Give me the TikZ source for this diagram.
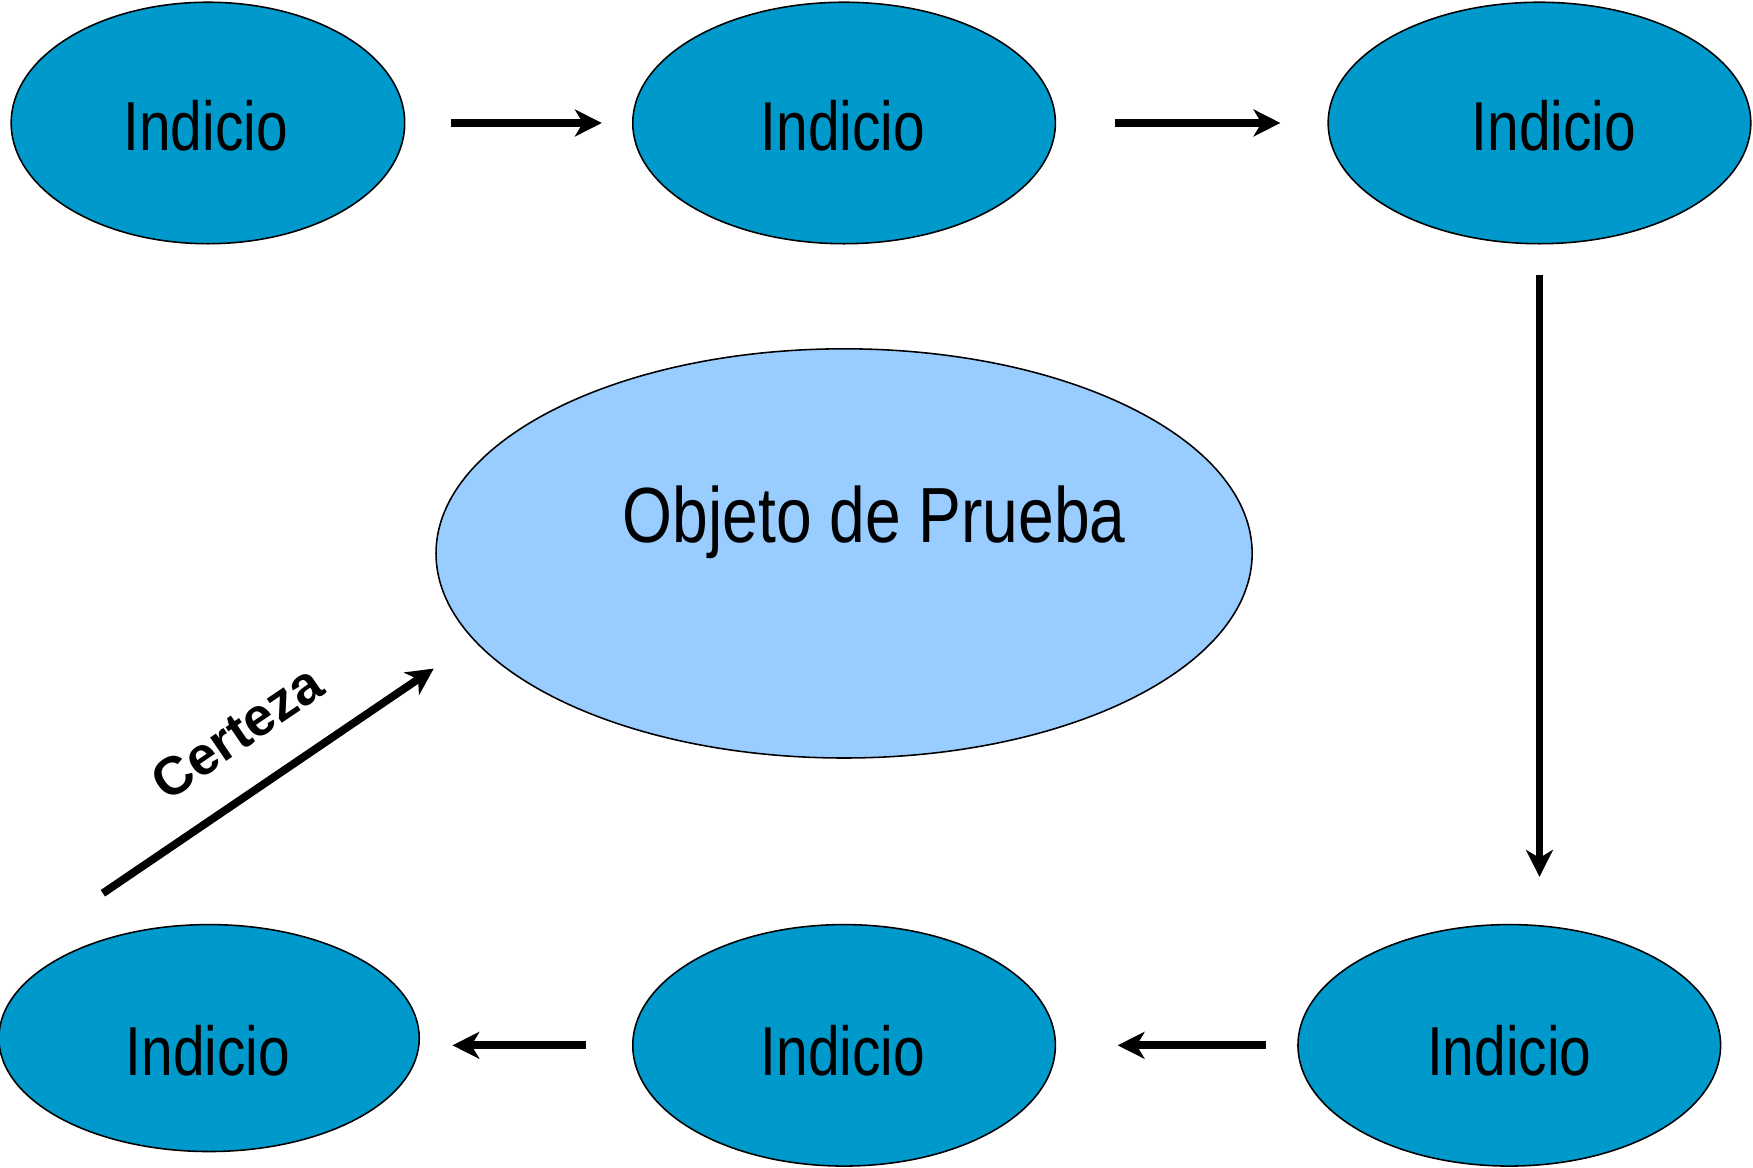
\documentclass[tikz,border=0pt]{standalone}
\usepackage{fontspec}
\setmainfont{Liberation Sans}
\newfontfamily\narrowfont{Liberation Sans}[FakeStretch=0.82]
\usetikzlibrary{shapes.geometric,arrows.meta}
\definecolor{indblue}{HTML}{0099CC}
\definecolor{objblue}{HTML}{99CCFF}
\tikzset{
  indbox/.style={ellipse,draw=black,line width=0.7pt,fill=indblue,inner sep=0pt,minimum width=189pt,minimum height=108pt},
  objbox/.style={ellipse,draw=black,line width=0.7pt,fill=objblue,inner sep=0pt,minimum width=365pt,minimum height=183pt},
  indtext/.style={anchor=base,inner sep=0pt,font=\narrowfont\fontsize{31pt}{31pt}\selectfont},
  objtext/.style={anchor=base,inner sep=0pt,font=\narrowfont\fontsize{35pt}{35pt}\selectfont},
  arr/.style={line width=3.5pt,-{Stealth[length=12pt,width=12pt,inset=3.5pt]}}
}
\begin{document}
\begin{tikzpicture}[x=0.5pt,y=-0.5pt]
\useasboundingbox (0,0) rectangle (1568,1044);
% ellipses
\node[indbox,minimum width=176pt] (e1) at (186,110) {};
\node[indbox] (e2) at (755,110) {};
\node[indbox] (e3) at (1377,110) {};
\node[indbox,minimum width=188pt,minimum height=101.5pt] (e4) at (187,928.5) {};
\node[indbox] (e5) at (755,935) {};
\node[indbox] (e6) at (1350,935) {};
\node[objbox] (obj) at (755,495) {};
% texts
\node[indtext] (t1) at (184,135) {Indicio};
\node[indtext] (t2) at (754,135) {Indicio};
\node[indtext] (t3) at (1390,135) {Indicio};
\node[indtext] (t4) at (186,962) {Indicio};
\node[indtext] (t5) at (754,962) {Indicio};
\node[indtext] (t6) at (1350,962) {Indicio};
\node[objtext] (to) at (782,485) {Objeto de Prueba};
% connectors
\draw[arr,shorten <=20.5pt,shorten >=13.5pt] (e1.east) -- (e2.west);
\draw[arr,shorten <=26.5pt,shorten >=21pt] (e2.east) -- (e3.west);
\draw[arr,shorten <=13.5pt,shorten >=21pt] (e3.south) -- (e3.south |- e6.north);
\draw[arr,shorten <=14pt,shorten >=27.5pt] (e6.west) -- (e6.west -| e5.east);
\draw[arr,shorten <=20.5pt,shorten >=14.5pt] (e5.west) -- (e5.west -| e4.east);
\coordinate (cs) at (92,799);
\coordinate (ce) at (388,598);
\draw[arr] (cs) -- (ce);
\node[inner sep=0pt,rotate=34.2,font=\bfseries\fontsize{24pt}{24pt}\selectfont] (cert) at (212,655) {Certeza};
\end{tikzpicture}
\end{document}
